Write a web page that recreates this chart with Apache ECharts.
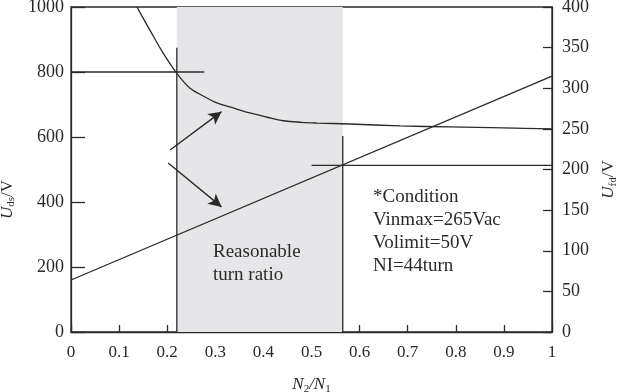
<!DOCTYPE html>
<html><head><meta charset="utf-8">
<script src="https://cdn.jsdelivr.net/npm/echarts@6/dist/echarts.min.js"></script>
<style>html,body{margin:0;padding:0;background:#fff}#c{width:620px;height:392px}</style>
</head><body><div id="c"></div>
<script>
// Uds curve (left axis, V) vs N2/N1
const udsN = [0.137, 0.164, 0.19, 0.22, 0.247, 0.275, 0.303, 0.34, 0.372, 0.41, 0.441, 0.48, 0.511, 0.58, 0.684, 0.788, 0.9, 1.0];
const udsV = [1000, 929, 862, 796, 751, 726, 705, 688, 674, 660, 650, 645, 643, 640, 634, 631, 628, 625];
// Ufd line (right axis, V)
const ufdN = [0, 1];
const ufdV = [64, 315];
// reference lines
const h800N = [0, 0.277], h800V = [800, 800];
const vLeftN = [0.22, 0.22], vLeftV = [0, 875];
const vRightN = [0.565, 0.565], vRightV = [0, 603];
const h205N = [0.50, 1.0], h205V = [205, 205];
// shaded band (reasonable turn ratio)
const bandN = [0.22, 0.565];
// arrows: [startN, startUds, endN, endUds]
const arrow1 = [0.206, 560, 0.313, 678];
const arrow2 = [0.202, 520, 0.313, 385];
const conditionLines = ['*Condition', 'Vinmax=265Vac', 'Volimit=50V', 'NI=44turn'];
const bandLabel = ['Reasonable', 'turn ratio'];

const zip = (a, b) => a.map((v, i) => [v, b[i]]);
const ink = '#2a2a2a';
const font = 'Liberation Serif';
const lineStyle = { color: ink, width: 1.3 };
const nameRich = {
  i: { fontFamily: font, fontStyle: 'italic', fontSize: 17, color: ink, lineHeight: 20 },
  s: { fontFamily: font, fontSize: 11, color: ink, verticalAlign: 'bottom', lineHeight: 14 },
  n: { fontFamily: font, fontSize: 17, color: ink, lineHeight: 20 },
  ni: { fontFamily: font, fontStyle: 'italic', fontSize: 17, color: ink, lineHeight: 20 }
};

const chart = echarts.init(document.getElementById('c'), null, { renderer: 'canvas' });
const seg = (name, xs, ys, yi) => ({
  name, type: 'line', yAxisIndex: yi, data: zip(xs, ys), symbol: 'none',
  lineStyle: lineStyle, silent: true, z: 3
});
chart.setOption({
  animation: false,
  backgroundColor: '#fff',
  grid: { left: 71, right: 68, top: 7, bottom: 60, containLabel: false, outerBoundsMode: 'none',
          show: true, borderColor: ink, borderWidth: 1.3, backgroundColor: 'transparent' },
  xAxis: {
    type: 'value', min: 0, max: 1, interval: 0.1,
    name: '{ni|N}{s|2}{ni|/N}{s|1}', nameLocation: 'middle', nameGap: 43,
    nameTextStyle: { rich: nameRich },
    axisLine: { lineStyle: lineStyle },
    axisTick: { inside: true, length: 7, lineStyle: lineStyle },
    axisLabel: { fontFamily: font, fontSize: 17, color: ink, margin: 12 },
    splitLine: { show: false }
  },
  yAxis: [{
    type: 'value', min: 0, max: 1000, interval: 200, position: 'left',
    name: '{i|U}{s|ds}{n|/V}', nameLocation: 'middle', nameRotate: 90, nameGap: 46,
    nameTextStyle: { padding: [0, 0, 0, -60], rich: nameRich },
    axisLine: { show: true, lineStyle: lineStyle },
    axisTick: { inside: true, length: 14, lineStyle: lineStyle },
    axisLabel: { fontFamily: font, fontSize: 18, color: ink, margin: 7, formatter: v => String(v) },
    splitLine: { show: false }
  }, {
    type: 'value', min: 0, max: 400, interval: 50, position: 'right',
    name: '{i|U}{s|fd}{n|/V}', nameLocation: 'middle', nameRotate: 90, nameGap: 45,
    nameTextStyle: { padding: [0, 0, 0, -20], rich: nameRich },
    axisLine: { show: true, lineStyle: lineStyle },
    axisTick: { inside: true, length: 9, lineStyle: lineStyle },
    axisLabel: { fontFamily: font, fontSize: 18, color: ink, margin: 10, formatter: v => String(v) },
    splitLine: { show: false }
  }],
  series: [
    {
      name: 'Uds', type: 'line', yAxisIndex: 0, data: zip(udsN, udsV), symbol: 'none', smooth: 0.3,
      lineStyle: lineStyle, z: 4,
      markArea: { silent: true, itemStyle: { color: '#e6e6e8' }, data: [[{ xAxis: bandN[0] }, { xAxis: bandN[1] }]], z: 1 },
      markLine: {
        silent: true, symbol: ['none', 'arrow'], symbolSize: [10, 13],
        lineStyle: { color: ink, width: 1.4, type: 'solid' }, label: { show: false },
        data: [
          [{ coord: [arrow1[0], arrow1[1]] }, { coord: [arrow1[2], arrow1[3]] }],
          [{ coord: [arrow2[0], arrow2[1]] }, { coord: [arrow2[2], arrow2[3]] }]
        ]
      }
    },
    { name: 'Ufd', type: 'line', yAxisIndex: 1, data: zip(ufdN, ufdV), symbol: 'none', lineStyle: lineStyle, z: 4 },
    seg('h800', h800N, h800V, 0),
    seg('vLeft', vLeftN, vLeftV, 0),
    seg('vRight', vRightN, vRightV, 0),
    seg('h205', h205N, h205V, 1)
  ],
  graphic: [
    { type: 'text', left: 213, top: 241, z: 10, style: { text: bandLabel.join('\n'), fontFamily: font, fontSize: 19, lineHeight: 23, fill: ink } },
    { type: 'text', left: 373, top: 186, z: 10, style: { text: conditionLines.join('\n'), fontFamily: font, fontSize: 19, lineHeight: 23, fill: ink } }
  ]
});
</script></body></html>
